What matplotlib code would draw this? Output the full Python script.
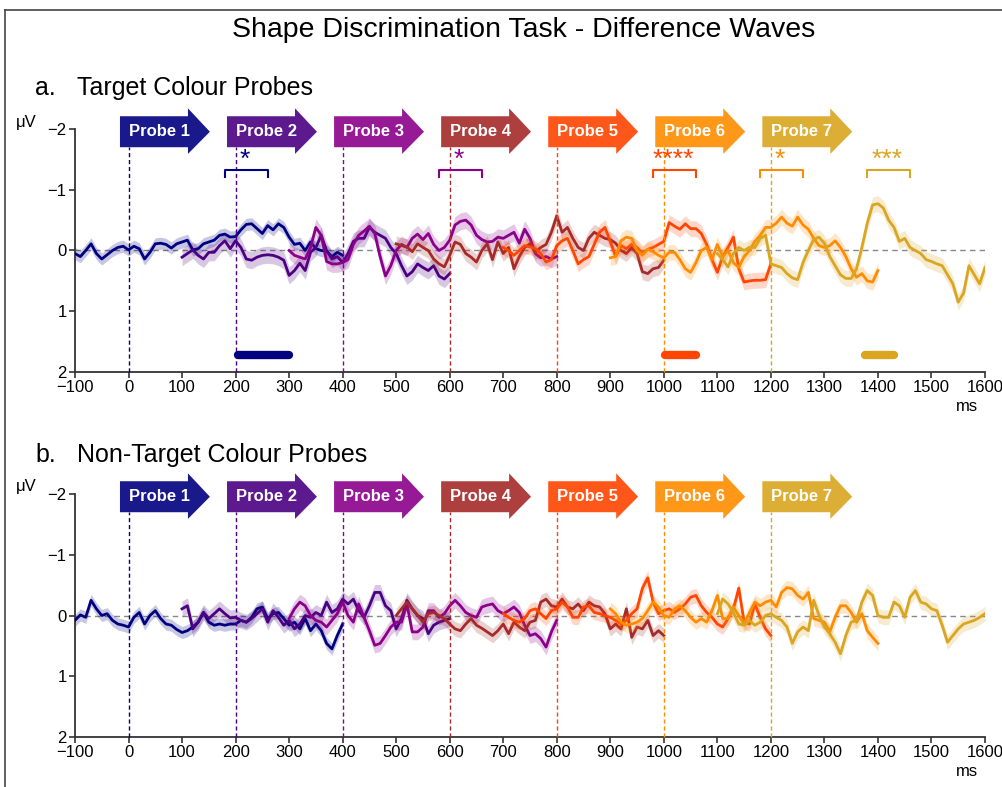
import numpy as np
import matplotlib
matplotlib.use("Agg")
import matplotlib.pyplot as plt
from matplotlib.patches import Polygon
from matplotlib.lines import Line2D

plt.rcParams['font.family'] = ['Liberation Sans', 'DejaVu Sans']

# ---------------- data ----------------
probe_names = ["Probe 1", "Probe 2", "Probe 3", "Probe 4", "Probe 5", "Probe 6", "Probe 7"]
probe_onsets = [0, 200, 400, 600, 800, 1000, 1200]
probe_colors = ["#000080", "#4B0082", "#8B008B", "#A52A2A", "#FF4500", "#FF8C00", "#DAA520"]
epoch_start = -100   # ms relative to probe onset
epoch_step = 10      # ms between samples
sem_a = [0.10, 0.14, 0.14, 0.13, 0.13, 0.13, 0.13]
sem_b = [0.10, 0.13, 0.13, 0.12, 0.12, 0.12, 0.12]

# Panel a: Target colour probes (uV), 10 ms steps from onset-100 to onset+400
a_p1 = [0.05, 0.1, 0.0, -0.11, 0.05, 0.14, 0.07, 0.0, -0.05, -0.07,
        -0.01, -0.07, -0.03, 0.14, 0.03, -0.11, -0.12, -0.1, -0.04, -0.11,
        -0.14, -0.17, -0.01, -0.03, -0.11, -0.14, -0.17, -0.25, -0.27, -0.22,
        -0.23, -0.34, -0.43, -0.44, -0.36, -0.28, -0.41, -0.34, -0.44, -0.38,
        -0.22, -0.1, -0.12, 0.0, -0.14, -0.03, 0.0, 0.01, 0.1, 0.03, 0.08]
a_p2 = [0.11, 0.05, -0.01, 0.08, 0.14, 0.03, 0.03, -0.08, -0.16, -0.03,
        -0.16, -0.05, 0.14, 0.16, 0.11, 0.08, 0.07, 0.08, 0.11, 0.16,
        0.41, 0.33, 0.21, 0.33, 0.03, -0.05, -0.25, 0.0, 0.14, 0.1,
        0.2, 0.05, -0.15, -0.2, -0.2, -0.38, -0.3, -0.25, -0.2, -0.05,
        0.05, 0.25, 0.42, 0.35, 0.22, 0.28, 0.33, 0.25, 0.42, 0.47, 0.38]
a_p3 = [0.0, 0.08, 0.11, 0.14, -0.05, -0.38, -0.25, 0.18, 0.22, 0.22,
        0.2, 0.15, -0.1, -0.25, -0.32, -0.4, -0.28, 0.1, 0.42, 0.25,
        0.0, -0.1, -0.05, -0.2, -0.27, -0.18, -0.28, -0.1, 0.0, -0.05,
        -0.17, -0.42, -0.48, -0.5, -0.42, -0.25, -0.18, -0.14, -0.15, -0.22,
        -0.2, -0.25, -0.3, -0.12, -0.35, -0.2, 0.05, 0.12, 0.1, 0.14, 0.1]
a_p4 = [-0.11, -0.08, -0.06, 0.02, -0.11, -0.05, 0.0, 0.14, 0.22, 0.27,
        0.08, -0.14, -0.1, 0.05, 0.11, 0.19, 0.0, -0.11, 0.15, -0.14,
        0.05, -0.05, 0.3, 0.1, -0.05, -0.11, 0.03, -0.05, -0.1, -0.3,
        -0.57, -0.3, -0.38, -0.2, -0.05, 0.0, -0.2, -0.3, -0.25, -0.2,
        -0.18, -0.12, 0.0, 0.05, -0.05, 0.05, 0.35, 0.38, 0.3, 0.28, 0.16]
a_p5 = [-0.05, 0.0, 0.08, 0.0, -0.08, -0.06, -0.03, 0.05, 0.19, 0.15,
        -0.08, -0.16, -0.2, 0.0, 0.22, 0.15, 0.1, -0.1, -0.3, -0.38,
        -0.15, 0.1, -0.08, -0.03, -0.1, -0.05, 0.05, -0.02, -0.05, -0.1,
        -0.15, -0.46, -0.4, -0.35, -0.44, -0.36, -0.36, -0.28, -0.1, 0.15,
        0.36, 0.1, -0.05, -0.22, 0.3, 0.52, 0.5, 0.49, 0.49, 0.48, 0.22]
a_p6 = [0.12, 0.1, -0.16, -0.22, -0.2, 0.0, 0.08, -0.02, 0.02, 0.08,
        0.12, 0.03, 0.03, 0.15, 0.3, 0.36, 0.2, 0.0, -0.05, 0.15,
        -0.1, 0.1, 0.0, 0.2, 0.28, 0.1, 0.0, -0.15, -0.25, -0.38,
        -0.38, -0.45, -0.55, -0.45, -0.4, -0.55, -0.42, -0.35, -0.2, -0.08,
        -0.05, -0.08, -0.16, -0.05, 0.1, 0.3, 0.44, 0.38, 0.5, 0.52, 0.33]
a_p7 = [0.05, 0.15, 0.27, 0.05, -0.05, 0.0, -0.05, -0.05, -0.2, -0.25,
        0.22, 0.25, 0.28, 0.38, 0.45, 0.48, 0.2, 0.0, -0.18, -0.22,
        -0.12, 0.1, 0.25, 0.4, 0.46, 0.46, 0.3, -0.05, -0.45, -0.75,
        -0.77, -0.7, -0.5, -0.38, -0.15, -0.2, -0.05, 0.0, 0.05, 0.15,
        0.18, 0.22, 0.25, 0.4, 0.55, 0.85, 0.7, 0.25, 0.4, 0.55, 0.28]

# Panel b: Non-target colour probes (uV)
b_p1 = [0.08, -0.01, 0.03, -0.25, -0.11, 0.0, -0.03, 0.08, 0.14, 0.16,
        0.19, 0.03, -0.05, 0.14, 0.0, -0.08, 0.05, 0.14, 0.16, 0.23,
        0.28, 0.25, 0.19, 0.11, -0.05, 0.11, 0.16, 0.14, 0.16, 0.14,
        0.14, 0.08, 0.11, 0.03, -0.11, -0.14, 0.05, -0.03, -0.05, 0.05,
        0.16, 0.11, 0.22, 0.05, 0.25, 0.14, 0.25, 0.46, 0.55, 0.33, 0.14]
b_p2 = [-0.11, -0.16, 0.22, 0.11, -0.05, 0.05, -0.03, -0.11, -0.03, 0.04,
        0.03, 0.08, 0.11, 0.05, -0.03, -0.11, 0.11, -0.08, 0.03, 0.16,
        0.08, 0.22, 0.14, 0.0, 0.03, -0.05, 0.0, -0.22, -0.05, -0.11,
        -0.27, -0.19, -0.27, -0.08, 0.03, -0.16, -0.38, -0.38, -0.16, -0.08,
        0.22, 0.05, -0.25, -0.11, 0.0, 0.05, 0.3, 0.16, 0.11, 0.08, 0.05]
b_p3 = [0.05, -0.11, -0.22, -0.16, 0.0, 0.08, 0.11, 0.19, 0.08, -0.03,
        -0.22, 0.0, 0.11, -0.19, 0.03, 0.25, 0.49, 0.46, 0.33, 0.19,
        0.11, 0.11, -0.19, 0.27, 0.27, 0.19, -0.08, -0.08, 0.03, -0.03,
        -0.16, -0.25, -0.16, -0.05, 0.0, 0.03, -0.14, -0.17, -0.19, -0.08,
        -0.03, -0.08, -0.14, -0.05, 0.16, 0.33, 0.3, 0.38, 0.52, 0.27, 0.08]
b_p4 = [0.0, -0.11, -0.22, -0.11, 0.0, 0.11, -0.03, -0.05, 0.0, 0.05,
        0.14, 0.22, 0.25, 0.14, 0.05, 0.16, 0.21, 0.27, 0.33, 0.25,
        0.14, 0.3, 0.11, 0.19, 0.25, 0.11, 0.08, -0.22, -0.27, -0.16,
        -0.14, -0.27, -0.14, -0.11, -0.19, -0.08, -0.22, -0.16, -0.14, -0.03,
        0.22, 0.14, 0.22, -0.11, 0.36, 0.19, 0.22, 0.08, 0.33, 0.25, 0.33]
b_p5 = [-0.03, 0.03, 0.08, 0.11, 0.05, -0.08, -0.11, -0.03, 0.05, -0.08,
        -0.11, -0.22, -0.14, 0.03, 0.03, -0.14, -0.16, -0.05, -0.03, 0.0,
        0.03, 0.08, 0.14, 0.08, -0.03, -0.11, -0.45, -0.62, -0.22, -0.03,
        -0.08, -0.11, -0.05, -0.11, -0.19, -0.3, -0.33, -0.16, -0.05, 0.03,
        0.14, 0.19, 0.05, -0.11, -0.45, 0.11, 0.14, -0.19, 0.03, 0.22, 0.33]
b_p6 = [-0.11, -0.03, 0.11, 0.16, 0.14, 0.11, 0.05, -0.08, -0.22, -0.14,
        0.0, 0.03, -0.11, -0.16, -0.08, 0.03, 0.11, 0.05, 0.11, -0.08,
        -0.33, 0.05, 0.05, -0.14, 0.0, 0.14, -0.05, -0.22, -0.16, -0.22,
        -0.25, -0.14, -0.38, -0.46, -0.44, -0.33, -0.27, -0.38, 0.05, 0.08,
        0.11, 0.27, 0.03, -0.16, -0.16, -0.05, 0.11, -0.03, 0.25, 0.36, 0.46]
b_p7 = [-0.03, -0.27, -0.19, -0.05, 0.14, 0.16, 0.08, 0.16, 0.11, 0.0,
        -0.03, 0.03, 0.08, 0.19, 0.46, 0.27, 0.19, 0.25, -0.25, 0.0,
        0.19, 0.3, 0.44, 0.63, 0.33, 0.11, 0.08, -0.22, -0.41, -0.33,
        0.0, 0.03, 0.03, -0.22, -0.16, 0.03, -0.3, -0.41, -0.22, -0.19,
        -0.11, -0.08, 0.16, 0.44, 0.33, 0.22, 0.14, 0.11, 0.08, 0.03, -0.03]

waves_a = [a_p1, a_p2, a_p3, a_p4, a_p5, a_p6, a_p7]
waves_b = [b_p1, b_p2, b_p3, b_p4, b_p5, b_p6, b_p7]

# significance (panel a): bracket windows relative to onset, stars, probe index
sig_probe_idx = [0, 2, 4, 5, 6]
sig_stars = ["*", "*", "****", "*", "***"]
sig_window = (180, 260)
# significance bars (absolute ms) and probe index
bar_probe_idx = [0, 4, 6]
bar_start = [205, 1003, 1375]
bar_end = [300, 1060, 1430]

panel_titles = ["Target Colour Probes", "Non-Target Colour Probes"]
panel_letters = ["a.", "b."]
xticks = list(range(-100, 1601, 100))
yticks = [-2, -1, 0, 1, 2]

# ---------------- figure ----------------
W, H = 1003, 787
fig = plt.figure(figsize=(W / 100, H / 100), dpi=100)

def fx(px):
    return px / W

def fy(py):
    return 1 - py / H

# figure frame (left + top)
fig.add_artist(Line2D([fx(5), fx(5)], [0, fy(10)], color="#444444", lw=1.2))
fig.add_artist(Line2D([fx(5), 1], [fy(10), fy(10)], color="#444444", lw=1.2))

fig.text(fx(524), fy(30), "Shape Discrimination Task - Difference Waves",
         ha="center", va="center", fontsize=20.5)

ax_left, ax_right = 75, 985
panel_tops = [129, 494]
panel_bottoms = [372, 737]
label_y = [88, 455]

for k in range(2):
    top, bot = panel_tops[k], panel_bottoms[k]
    ax = fig.add_axes([fx(ax_left), fy(bot), fx(ax_right) - fx(ax_left), (bot - top) / H])
    ax.set_xlim(-100, 1600)
    ax.set_ylim(2, -2)
    for s in ["top", "right"]:
        ax.spines[s].set_visible(False)
    for s in ["left", "bottom"]:
        ax.spines[s].set_color("#333333")
        ax.spines[s].set_linewidth(1.3)
    ax.set_xticks(xticks)
    ax.set_yticks(yticks)
    ax.tick_params(labelsize=12, length=4, width=1.2, color="#333333", pad=2)
    ax.patch.set_alpha(0)

    # zero line
    ax.axhline(0, color="#888888", lw=1.0, ls=(0, (4, 3)), zorder=1)

    waves = waves_a if k == 0 else waves_b
    sems = sem_a if k == 0 else sem_b
    for i, (onset, col, w) in enumerate(zip(probe_onsets, probe_colors, waves)):
        w = np.asarray(w)
        t = onset + epoch_start + epoch_step * np.arange(len(w))
        ax.fill_between(t, w - sems[i], w + sems[i], color=col, alpha=0.22, lw=0, zorder=2 + i)
        ax.plot(t, w, color=col, lw=2.0, solid_joinstyle="round", zorder=3 + i)
        # onset dashed line
        ax.plot([onset, onset], [2, -1.70], color=col, lw=1.0, ls=(0, (3, 2)), zorder=20, clip_on=False)

    # probe arrows
    for name, onset, col in zip(probe_names, probe_onsets, probe_colors):
        x0, xb, xt = onset - 16, onset + 111, onset + 152
        yb0, yb1, yh0, yh1, ym = -1.70, -2.21, -1.59, -2.34, -1.955
        poly = Polygon([[x0, yb0], [xb, yb0], [xb, yh0], [xt, ym], [xb, yh1], [xb, yb1], [x0, yb1]],
                       closed=True, facecolor=col, edgecolor="none", alpha=0.9, clip_on=False, zorder=25)
        ax.add_patch(poly)
        ax.text(onset + 57, -1.955, name, color="white", fontsize=12, fontweight="bold",
                ha="center", va="center", zorder=26, clip_on=False)

    if k == 0:
        for pi, st in zip(sig_probe_idx, sig_stars):
            col = probe_colors[pi]
            xa = probe_onsets[pi] + sig_window[0]
            xb2 = probe_onsets[pi] + sig_window[1]
            ax.plot([xa, xa, xb2, xb2], [-1.21, -1.33, -1.33, -1.21], color=col, lw=1.5,
                    zorder=30, clip_on=False)
            ax.text((xa + xb2) / 2 - 3, -1.37, st, color=col, fontsize=19, ha="center",
                    va="baseline", zorder=30)
        for pi, s0, s1 in zip(bar_probe_idx, bar_start, bar_end):
            ax.plot([s0, s1], [1.72, 1.72], color=probe_colors[pi], lw=6,
                    solid_capstyle="round", zorder=30)

    # labels
    fig.text(fx(35), fy(label_y[k]), panel_letters[k], fontsize=18, ha="left", va="center")
    fig.text(fx(77), fy(label_y[k]), panel_titles[k], fontsize=18, ha="left", va="center")
    fig.text(fx(26), fy(top - 7), "\u03bcV", fontsize=12, ha="center", va="center")
    fig.text(fx(967), fy(bot + 34), "ms", fontsize=12, ha="center", va="center")

fig.savefig("out.png", dpi=100)
